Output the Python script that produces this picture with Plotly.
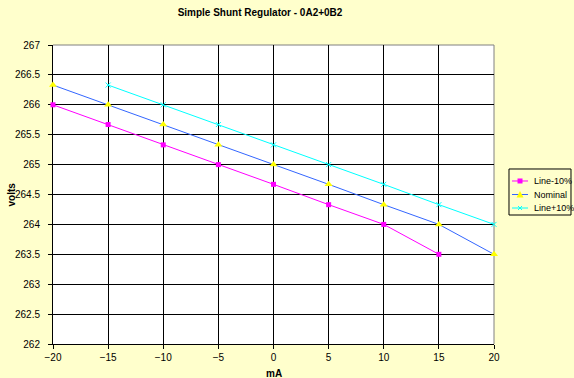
import plotly.graph_objects as go

x_all = [-20, -15, -10, -5, 0, 5, 10, 15, 20]

x_minus = [-20, -15, -10, -5, 0, 5, 10, 15]
y_minus = [266.0, 265.67, 265.33, 265.0, 264.67, 264.33, 264.0, 263.5]

x_nominal = [-20, -15, -10, -5, 0, 5, 10, 15, 20]
y_nominal = [266.33, 266.0, 265.67, 265.33, 265.0, 264.67, 264.33, 264.0, 263.5]

x_plus = [-15, -10, -5, 0, 5, 10, 15, 20]
y_plus = [266.33, 266.0, 265.67, 265.33, 265.0, 264.67, 264.33, 264.0]

y_ticks = [262, 262.5, 263, 263.5, 264, 264.5, 265, 265.5, 266, 266.5, 267]
y_ticklabels = ["262", "262.5", "263", "263.5", "264", "264.5", "265", "265.5", "266", "266.5", "267"]

series_names = ["Line-10%", "Nominal", "Line+10%"]
line_colors = ["#FF00FF", "#3366FF", "#00FFFF"]

FONT = "Liberation Sans, Arial, sans-serif"
BG = "#FFFFCC"

fig = go.Figure()
fig.add_trace(go.Scatter(
    x=x_minus, y=y_minus, name=series_names[0], mode="lines+markers",
    line=dict(color=line_colors[0], width=1), cliponaxis=False,
    marker=dict(symbol="square", size=5, color="#FF00FF"),
))
fig.add_trace(go.Scatter(
    x=x_nominal, y=y_nominal, name=series_names[1], mode="lines+markers",
    line=dict(color=line_colors[1], width=1), cliponaxis=False,
    marker=dict(symbol="triangle-up", size=7, color="#FFFF00"),
))
fig.add_trace(go.Scatter(
    x=x_plus, y=y_plus, name=series_names[2], mode="lines+markers",
    line=dict(color=line_colors[2], width=1), cliponaxis=False,
    marker=dict(symbol="x-thin", size=5, color="#00FFFF",
                line=dict(color="#00FFFF", width=1)),
))

# ---- compact legend drawn as layout decoration (pixel-sized) ----
L_LEFT, L_RIGHT = 1.034, 1.1746
L_BOTTOM, L_TOP = 0.4314, 0.5853
row_y = [0.5452, 0.5, 0.4548]
sample_x = 1.0590
text_x = 1.0862

shapes = [
    dict(type="rect", xref="paper", yref="paper", x0=L_LEFT, x1=L_RIGHT,
         y0=L_BOTTOM, y1=L_TOP, fillcolor=BG,
         line=dict(color="#000000", width=1), layer="above"),
    # plot area border top/right (grey)
    dict(type="line", xref="paper", yref="paper", x0=0, x1=1, y0=1, y1=1,
         line=dict(color="#808080", width=1), layer="below"),
    dict(type="line", xref="paper", yref="paper", x0=1, x1=1, y0=0, y1=1,
         line=dict(color="#808080", width=1), layer="below"),
]
annotations = []
for i, (name, col, ry) in enumerate(zip(series_names, line_colors, row_y)):
    shapes.append(dict(type="line", xref="paper", yref="paper",
                       xsizemode="pixel", ysizemode="pixel",
                       xanchor=sample_x, yanchor=ry,
                       x0=-8, x1=8, y0=0, y1=0,
                       line=dict(color=col, width=1), layer="above"))
    annotations.append(dict(text=name, x=text_x, xref="paper", xanchor="left",
                            y=ry, yref="paper", yanchor="middle",
                            showarrow=False,
                            font=dict(family=FONT, size=9, color="#000000")))
# legend marker symbols
shapes.append(dict(type="rect", xref="paper", yref="paper",
                   xsizemode="pixel", ysizemode="pixel",
                   xanchor=sample_x, yanchor=row_y[0],
                   x0=-2.5, x1=2.5, y0=-2.5, y1=2.5,
                   fillcolor="#FF00FF", line=dict(width=0), layer="above"))
shapes.append(dict(type="path", xref="paper", yref="paper",
                   xsizemode="pixel", ysizemode="pixel",
                   xanchor=sample_x, yanchor=row_y[1],
                   path="M -3.5,-3 L 3.5,-3 L 0,3.5 Z",
                   fillcolor="#FFFF00", line=dict(width=0), layer="above"))
for (a, b, c, d) in [(-2, -2, 2, 2), (-2, 2, 2, -2)]:
    shapes.append(dict(type="line", xref="paper", yref="paper",
                       xsizemode="pixel", ysizemode="pixel",
                       xanchor=sample_x, yanchor=row_y[2],
                       x0=a, y0=b, x1=c, y1=d,
                       line=dict(color="#00FFFF", width=1), layer="above"))

annotations += [
    dict(text="<b>mA</b>", x=0.5, xref="paper", xanchor="center",
         y=-0.097, yref="paper", yanchor="middle", showarrow=False,
         font=dict(family=FONT, size=10, color="#000000")),
    dict(text="<b>volts</b>", x=-0.093, xref="paper", xanchor="center",
         y=0.5, yref="paper", yanchor="middle", showarrow=False,
         textangle=-90, font=dict(family=FONT, size=10, color="#000000")),
]

fig.update_layout(
    template="none",
    width=574, height=378,
    paper_bgcolor=BG, plot_bgcolor="#FFFFFF",
    margin=dict(l=53, r=80, t=45, b=34, autoexpand=False),
    font=dict(family=FONT, size=10, color="#000000"),
    title=dict(text="<b>Simple Shunt Regulator - 0A2+0B2</b>",
               x=0.453, xanchor="center", xref="container",
               y=0.966, yanchor="middle", yref="container",
               font=dict(family=FONT, size=10, color="#000000")),
    showlegend=False,
    xaxis=dict(range=[-20, 20], tickvals=x_all, showgrid=True,
               gridcolor="#000000", gridwidth=1, zeroline=False,
               showline=True, linecolor="#000000", linewidth=1,
               ticks="outside", ticklen=4, tickcolor="#000000",
               automargin=False, layer="below traces",
               tickfont=dict(family=FONT, size=10, color="#000000")),
    yaxis=dict(range=[262, 267], tickvals=y_ticks, ticktext=y_ticklabels,
               showgrid=True, gridcolor="#000000", gridwidth=1,
               zeroline=False, showline=True, linecolor="#000000",
               linewidth=1, ticks="outside", ticklen=4,
               tickcolor="#000000", automargin=False, ticklabelstandoff=6,
               layer="below traces",
               tickfont=dict(family=FONT, size=10, color="#000000")),
    annotations=annotations,
    shapes=shapes,
)

fig.write_html(
    "out.html",
    config={"displayModeBar": False, "staticPlot": True},
    post_script=("document.body.style.margin='0';"
                 "document.body.style.padding='0';"
                 "document.body.style.overflow='hidden';"
                 "document.body.style.background='" + BG + "';"),
)
